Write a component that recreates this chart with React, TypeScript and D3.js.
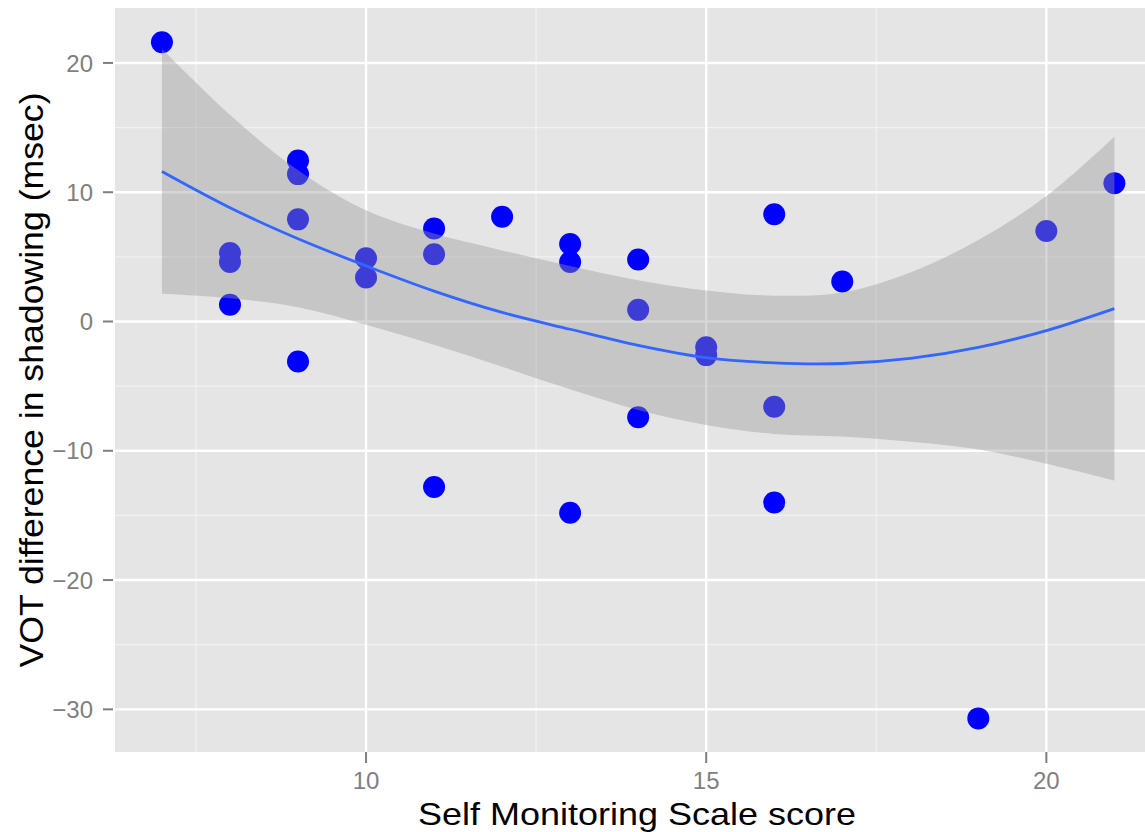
import React from "react";
import * as d3 from "d3";

const pointX = [7, 8, 8, 8, 9, 9, 9, 9, 10, 10, 11, 11, 11, 12, 13, 13, 13, 14, 14, 14, 15, 15, 16, 16, 16, 17, 19, 20, 21];
const pointY = [21.6, 5.3, 4.6, 1.3, 12.45, 11.4, 7.9, -3.1, 4.9, 3.4, 7.2, 5.2, -12.8, 8.1, 6.0, 4.6, -14.8, 4.8, 0.9, -7.4, -2.0, -2.6, 8.3, -6.6, -14.0, 3.1, -30.7, 7.0, 10.7];

const fitX = [7, 8, 9, 10, 11, 12, 13, 14, 15, 16, 17, 18, 19, 20, 21];
const fitY = [11.6, 8.8, 6.4, 4.3, 2.35, 0.7, -0.6, -1.85, -2.8, -3.2, -3.25, -2.85, -2.0, -0.7, 1.0];
const bandUpper = [21.1, 16.0, 11.7, 8.6, 6.8, 5.5, 4.3, 3.2, 2.4, 2.0, 2.25, 3.8, 6.3, 9.7, 14.3];
const bandLower = [2.15, 1.8, 1.1, -0.25, -1.8, -3.5, -5.25, -6.85, -8.0, -8.7, -8.9, -9.3, -9.9, -11.0, -12.3];

const xTicks = [10, 15, 20];
const xMinor = [7.5, 12.5, 17.5];
const yTicks = [20, 10, 0, -10, -20, -30];
const yMinor = [15, 5, -5, -15, -25];

const xLabel = "Self Monitoring Scale score";
const yLabel = "VOT difference in shadowing (msec)";

export default function App() {
  const left = 115, right = 1145, top = 8, bottom = 752;
  const x = d3.scaleLinear().domain([6.31, 21.45]).range([left, right]);
  const y = d3.scaleLinear().domain([-33.3, 24.25]).range([bottom, top]);

  const idx = d3.range(fitX.length);
  const area = d3
    .area<number>()
    .x((i) => x(fitX[i]))
    .y0((i) => y(bandLower[i]))
    .y1((i) => y(bandUpper[i]))
    .curve(d3.curveCatmullRom.alpha(0.5));
  const line = d3
    .line<number>()
    .x((i) => x(fitX[i]))
    .y((i) => y(fitY[i]))
    .curve(d3.curveCatmullRom.alpha(0.5));

  const font = "'Liberation Sans', Arial, Helvetica, sans-serif";

  return (
    <svg
      width={1145}
      height={832}
      style={{ position: "absolute", left: 0, top: 0, background: "#fff" }}
      fontFamily={font}
    >
      <rect x={left} y={top} width={right - left} height={bottom - top} fill="#e5e5e5" />
      {xMinor.map((v) => (
        <line key={"xm" + v} x1={x(v)} x2={x(v)} y1={top} y2={bottom} stroke="#f2f2f2" strokeWidth={1.2} />
      ))}
      {yMinor.map((v) => (
        <line key={"ym" + v} x1={left} x2={right} y1={y(v)} y2={y(v)} stroke="#f2f2f2" strokeWidth={1.2} />
      ))}
      {xTicks.map((v) => (
        <line key={"xg" + v} x1={x(v)} x2={x(v)} y1={top} y2={bottom} stroke="#fff" strokeWidth={2.4} />
      ))}
      {yTicks.map((v) => (
        <line key={"yg" + v} x1={left} x2={right} y1={y(v)} y2={y(v)} stroke="#fff" strokeWidth={2.4} />
      ))}

      {pointX.map((px, i) => (
        <circle key={"p" + i} cx={x(px)} cy={y(pointY[i])} r={11} fill="#0000ff" />
      ))}

      <path d={area(idx) || ""} fill="#999999" fillOpacity={0.4} />
      <path d={line(idx) || ""} fill="none" stroke="#3366ff" strokeWidth={2.8} />

      {yTicks.map((v) => (
        <g key={"yt" + v}>
          <line x1={left - 12} x2={left - 2} y1={y(v)} y2={y(v)} stroke="#7f7f7f" strokeWidth={2} />
          <text x={93} y={y(v)} dy="0.36em" textAnchor="end" fontSize={24} fill="#7f7f7f">
            {v < 0 ? "\u2212" + Math.abs(v) : String(v)}
          </text>
        </g>
      ))}
      {xTicks.map((v) => (
        <g key={"xt" + v}>
          <line x1={x(v)} x2={x(v)} y1={bottom} y2={bottom + 11} stroke="#7f7f7f" strokeWidth={2} />
          <text x={x(v)} y={789} textAnchor="middle" fontSize={24} fill="#7f7f7f">
            {String(v)}
          </text>
        </g>
      ))}

      <text
        x={637}
        y={825}
        textAnchor="middle"
        fontSize={32}
        fill="#000"
        textLength={438}
        lengthAdjust="spacingAndGlyphs"
      >
        {xLabel}
      </text>
      <text
        transform={`translate(43, ${(top + bottom) / 2}) rotate(-90)`}
        textAnchor="middle"
        fontSize={33}
        fill="#000"
        textLength={575}
        lengthAdjust="spacingAndGlyphs"
      >
        {yLabel}
      </text>
    </svg>
  );
}
